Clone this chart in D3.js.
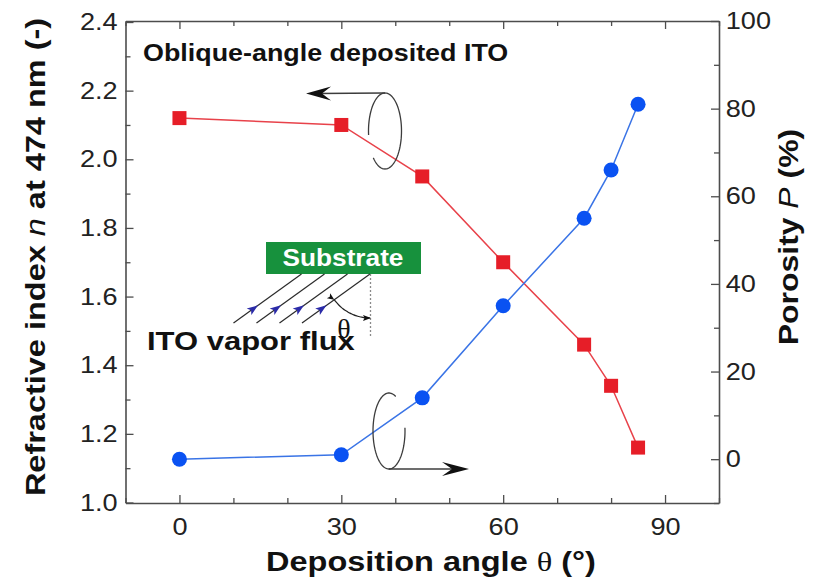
<!DOCTYPE html>
<html>
<head>
<meta charset="utf-8">
<script src="https://cdn.jsdelivr.net/npm/d3@7"></script>
<style>
  body { margin: 0; background: #fff; }
  svg { display: block; }
</style>
</head>
<body>
<svg id="chart" width="814" height="584"></svg>
<script>
// Deposition angle (degrees) of the oblique-angle deposited ITO films
const angles = [0, 30, 45, 60, 75, 80, 85];
// Refractive index n at 474 nm (left axis)
const refractiveIndex = [2.12, 2.10, 1.95, 1.70, 1.46, 1.34, 1.16];
// Porosity P in % (right axis)
const porosity = [0, 1, 14, 35, 55, 66, 81];

const angleTicks = [0, 30, 60, 90];
const angleMinorTicks = [-10, 10, 20, 40, 50, 70, 80, 100];
const indexTicks = [1.0, 1.2, 1.4, 1.6, 1.8, 2.0, 2.2, 2.4];
const indexMinorTicks = [1.1, 1.3, 1.5, 1.7, 1.9, 2.1, 2.3];
const porosityTicks = [0, 20, 40, 60, 80, 100];
const porosityMinorTicks = [-10, 10, 30, 50, 70, 90];

const svg = d3.select('#chart');
const plot = { left: 125.5, right: 719, top: 21, bottom: 503 };

const x = d3.scaleLinear().domain([-10, 100]).range([plot.left, plot.right]);
const yN = d3.scaleLinear().domain([1.0, 2.4]).range([plot.bottom - 0.5, plot.top + 1]);
const yP = d3.scaleLinear().domain([-10, 100]).range([plot.bottom, plot.top]);

const SANS = "'Liberation Sans', Arial, Helvetica, sans-serif";
const SERIF = "'Liberation Serif', 'Times New Roman', serif";
const STRETCH = 1.13;   // glyphs in this figure are set slightly wide
const AXIS_COLOR = '#4d4d4d';

// ---------- axes ----------
function styleAxis(g, showDomain) {
  g.selectAll('.domain').attr('stroke', AXIS_COLOR).attr('stroke-width', 1.6)
    .style('display', showDomain ? null : 'none');
  g.selectAll('.tick line').attr('stroke', AXIS_COLOR).attr('stroke-width', 1.3);
  g.selectAll('.tick text')
    .attr('font-family', SANS).attr('font-size', 24).attr('fill', '#222')
    .attr('transform', `scale(${STRETCH},1)`);
}

// bottom
svg.append('g').attr('transform', `translate(0,${plot.bottom})`)
  .call(d3.axisBottom(x).tickValues(angleTicks).tickSizeInner(-8).tickSizeOuter(0)
    .tickPadding(15).tickFormat(d3.format('d')))
  .call(g => styleAxis(g, true));
svg.append('g').attr('transform', `translate(0,${plot.bottom})`)
  .call(d3.axisBottom(x).tickValues(angleMinorTicks).tickSizeInner(-5).tickSizeOuter(0).tickFormat(''))
  .call(g => styleAxis(g, false));
// top
svg.append('g').attr('transform', `translate(0,${plot.top})`)
  .call(d3.axisTop(x).tickValues(angleTicks).tickSizeInner(-8).tickSizeOuter(0).tickFormat(''))
  .call(g => styleAxis(g, true));
svg.append('g').attr('transform', `translate(0,${plot.top})`)
  .call(d3.axisTop(x).tickValues(angleMinorTicks).tickSizeInner(-5).tickSizeOuter(0).tickFormat(''))
  .call(g => styleAxis(g, false));
// left (refractive index)
svg.append('g').attr('transform', `translate(${plot.left},0)`)
  .call(d3.axisLeft(yN).tickValues(indexTicks).tickSizeInner(-8).tickSizeOuter(0)
    .tickPadding(7).tickFormat(d3.format('.1f')))
  .call(g => styleAxis(g, true));
svg.append('g').attr('transform', `translate(${plot.left},0)`)
  .call(d3.axisLeft(yN).tickValues(indexMinorTicks).tickSizeInner(-5).tickSizeOuter(0).tickFormat(''))
  .call(g => styleAxis(g, false));
// right (porosity)
svg.append('g').attr('transform', `translate(${plot.right},0)`)
  .call(d3.axisRight(yP).tickValues(porosityTicks).tickSizeInner(-8).tickSizeOuter(0)
    .tickPadding(6).tickFormat(d3.format('d')))
  .call(g => styleAxis(g, true));
svg.append('g').attr('transform', `translate(${plot.right},0)`)
  .call(d3.axisRight(yP).tickValues(porosityMinorTicks).tickSizeInner(-5).tickSizeOuter(0).tickFormat(''))
  .call(g => styleAxis(g, false));

// ---------- text helper ----------
function label(parent, { x0, y0, rotate = 0, size, weight = 'normal', anchor = 'start',
                         fill = '#111', family = SANS, stretch = STRETCH }) {
  return parent.append('text')
    .attr('transform', `translate(${x0},${y0}) rotate(${rotate}) scale(${stretch},1)`)
    .attr('font-family', family).attr('font-size', size).attr('font-weight', weight)
    .attr('text-anchor', anchor).attr('fill', fill);
}

// axis titles
const yTitle = label(svg, { x0: 45, y0: 257, rotate: -90, size: 28, weight: 'bold', anchor: 'middle', stretch: 1.16 });
yTitle.append('tspan').text('Refractive index ');
yTitle.append('tspan').attr('font-style', 'italic').attr('font-weight', 'normal').text('n');
yTitle.append('tspan').text(' at 474 nm (-)');

const pTitle = label(svg, { x0: 798, y0: 237, rotate: -90, size: 28, weight: 'bold', anchor: 'middle', stretch: 1.14 });
pTitle.append('tspan').text('Porosity ');
pTitle.append('tspan').attr('font-style', 'italic').attr('font-weight', 'normal').text('P');
pTitle.append('tspan').text(' (%)');

const xTitle = label(svg, { x0: 431, y0: 571, size: 28, weight: 'bold', anchor: 'middle', stretch: 1.16 });
xTitle.append('tspan').text('Deposition angle ');
xTitle.append('tspan').attr('font-family', SERIF).attr('font-weight', 'normal').text('θ');
xTitle.append('tspan').text(' (°)');

// heading inside the plot
label(svg, { x0: 143, y0: 61, size: 24, weight: 'bold', stretch: 1.12 })
  .text('Oblique-angle deposited ITO');

// ---------- data series ----------
const idxPts = angles.map((a, i) => [a, refractiveIndex[i]]);
const porPts = angles.map((a, i) => [a, porosity[i]]);

svg.append('path').datum(idxPts)
  .attr('fill', 'none').attr('stroke', '#e8424a').attr('stroke-width', 1.5)
  .attr('d', d3.line().x(d => x(d[0])).y(d => yN(d[1])));
svg.append('path').datum(porPts)
  .attr('fill', 'none').attr('stroke', '#3a74e6').attr('stroke-width', 1.5)
  .attr('d', d3.line().x(d => x(d[0])).y(d => yP(d[1])));

const SQ = 14;
svg.append('g').selectAll('rect').data(idxPts).join('rect')
  .attr('x', d => x(d[0]) - SQ / 2).attr('y', d => yN(d[1]) - SQ / 2)
  .attr('width', SQ).attr('height', SQ).attr('fill', '#e61e28');
svg.append('g').selectAll('circle').data(porPts).join('circle')
  .attr('cx', d => x(d[0])).attr('cy', d => yP(d[1])).attr('r', 7.5)
  .attr('fill', '#0a52f2');

// ---------- rotation symbols pointing to each axis ----------
function arrowHead(parent, tipX, tipY, angleDeg, L, Wd, notch, fill) {
  parent.append('path')
    .attr('d', `M0,0 L${-L},${-Wd} L${-L + notch},0 L${-L},${Wd} Z`)
    .attr('transform', `translate(${tipX},${tipY}) rotate(${angleDeg})`)
    .attr('fill', fill);
}
function ellipseArc(parent, cx, cy, rx, ry, fromDeg, toDeg) {
  const pts = d3.range(fromDeg, toDeg + 0.5, 3).map(t => {
    const r = t * Math.PI / 180;
    return [cx + rx * Math.cos(r), cy + ry * Math.sin(r)];
  });
  parent.append('path').attr('d', d3.line()(pts))
    .attr('fill', 'none').attr('stroke', '#3c3c3c').attr('stroke-width', 1.3);
}
const deco = svg.append('g');
// upper symbol: arrow to the left axis
ellipseArc(deco, 385, 131, 16.5, 38, 174, 495);
deco.append('line').attr('x1', 385).attr('y1', 93).attr('x2', 318).attr('y2', 93.5)
  .attr('stroke', '#3c3c3c').attr('stroke-width', 1.3);
arrowHead(deco, 306, 93.5, 180, 25, 7, 9, '#111');
// lower symbol: arrow to the right axis
ellipseArc(deco, 389, 431, 16, 38, -5, 295);
deco.append('line').attr('x1', 389).attr('y1', 469).attr('x2', 455).attr('y2', 469)
  .attr('stroke', '#3c3c3c').attr('stroke-width', 1.3);
arrowHead(deco, 469, 469, 0, 27, 7, 10, '#111');

// ---------- geometry sketch: substrate and vapour flux ----------
const sketch = svg.append('g');
sketch.append('rect').attr('x', 266).attr('y', 242).attr('width', 155).attr('height', 32)
  .attr('fill', '#17913d');
label(sketch, { x0: 343, y0: 266, size: 23, weight: 'bold', anchor: 'middle', fill: '#fff', stretch: 1.14 })
  .text('Substrate');

const fluxStarts = [233.5, 256.5, 279.5, 302];
const fdx = 68, fdy = -49;
const fluxAngle = Math.atan2(fdy, fdx) * 180 / Math.PI;
fluxStarts.forEach(sx => {
  sketch.append('line').attr('x1', sx).attr('y1', 323).attr('x2', sx + fdx).attr('y2', 323 + fdy)
    .attr('stroke', '#2a2a2a').attr('stroke-width', 1.2);
  const t = 0.36;
  arrowHead(sketch, sx + fdx * t, 323 + fdy * t, fluxAngle, 11, 4, 2.5, '#2b2ba8');
});
// substrate normal
sketch.append('line').attr('x1', 370.5).attr('y1', 274).attr('x2', 370.5).attr('y2', 336)
  .attr('stroke', '#8a8a8a').attr('stroke-width', 1.3).attr('stroke-dasharray', '2,2');
// angle arc between flux and normal
{
  const cx = 370, cy = 274, r = 44;
  const a0 = Math.atan2(-fdy, -fdx);          // direction down along the flux line
  const a1 = Math.PI / 2;                       // straight down
  const pts = d3.range(0, 1.0001, 0.05).map(f => {
    const a = a0 + (a1 - a0) * f;
    return [cx + r * Math.cos(a), cy + r * Math.sin(a)];
  });
  sketch.append('path').attr('d', d3.line().curve(d3.curveBasis)(pts))
    .attr('fill', 'none').attr('stroke', '#222').attr('stroke-width', 1.2);
  const s = pts[0], e = pts[pts.length - 1];
  arrowHead(sketch, s[0], s[1], a0 * 180 / Math.PI - 90 - 20, 7, 3, 1.5, '#111');
  arrowHead(sketch, e[0] + 1, e[1], 0, 8, 3, 1.5, '#111');
}
label(sketch, { x0: 344, y0: 338, size: 28, family: SERIF, anchor: 'middle', stretch: 1 }).text('θ');
label(sketch, { x0: 147, y0: 350, size: 25, weight: 'bold', stretch: 1.24 }).text('ITO vapor flux');
</script>
</body>
</html>
